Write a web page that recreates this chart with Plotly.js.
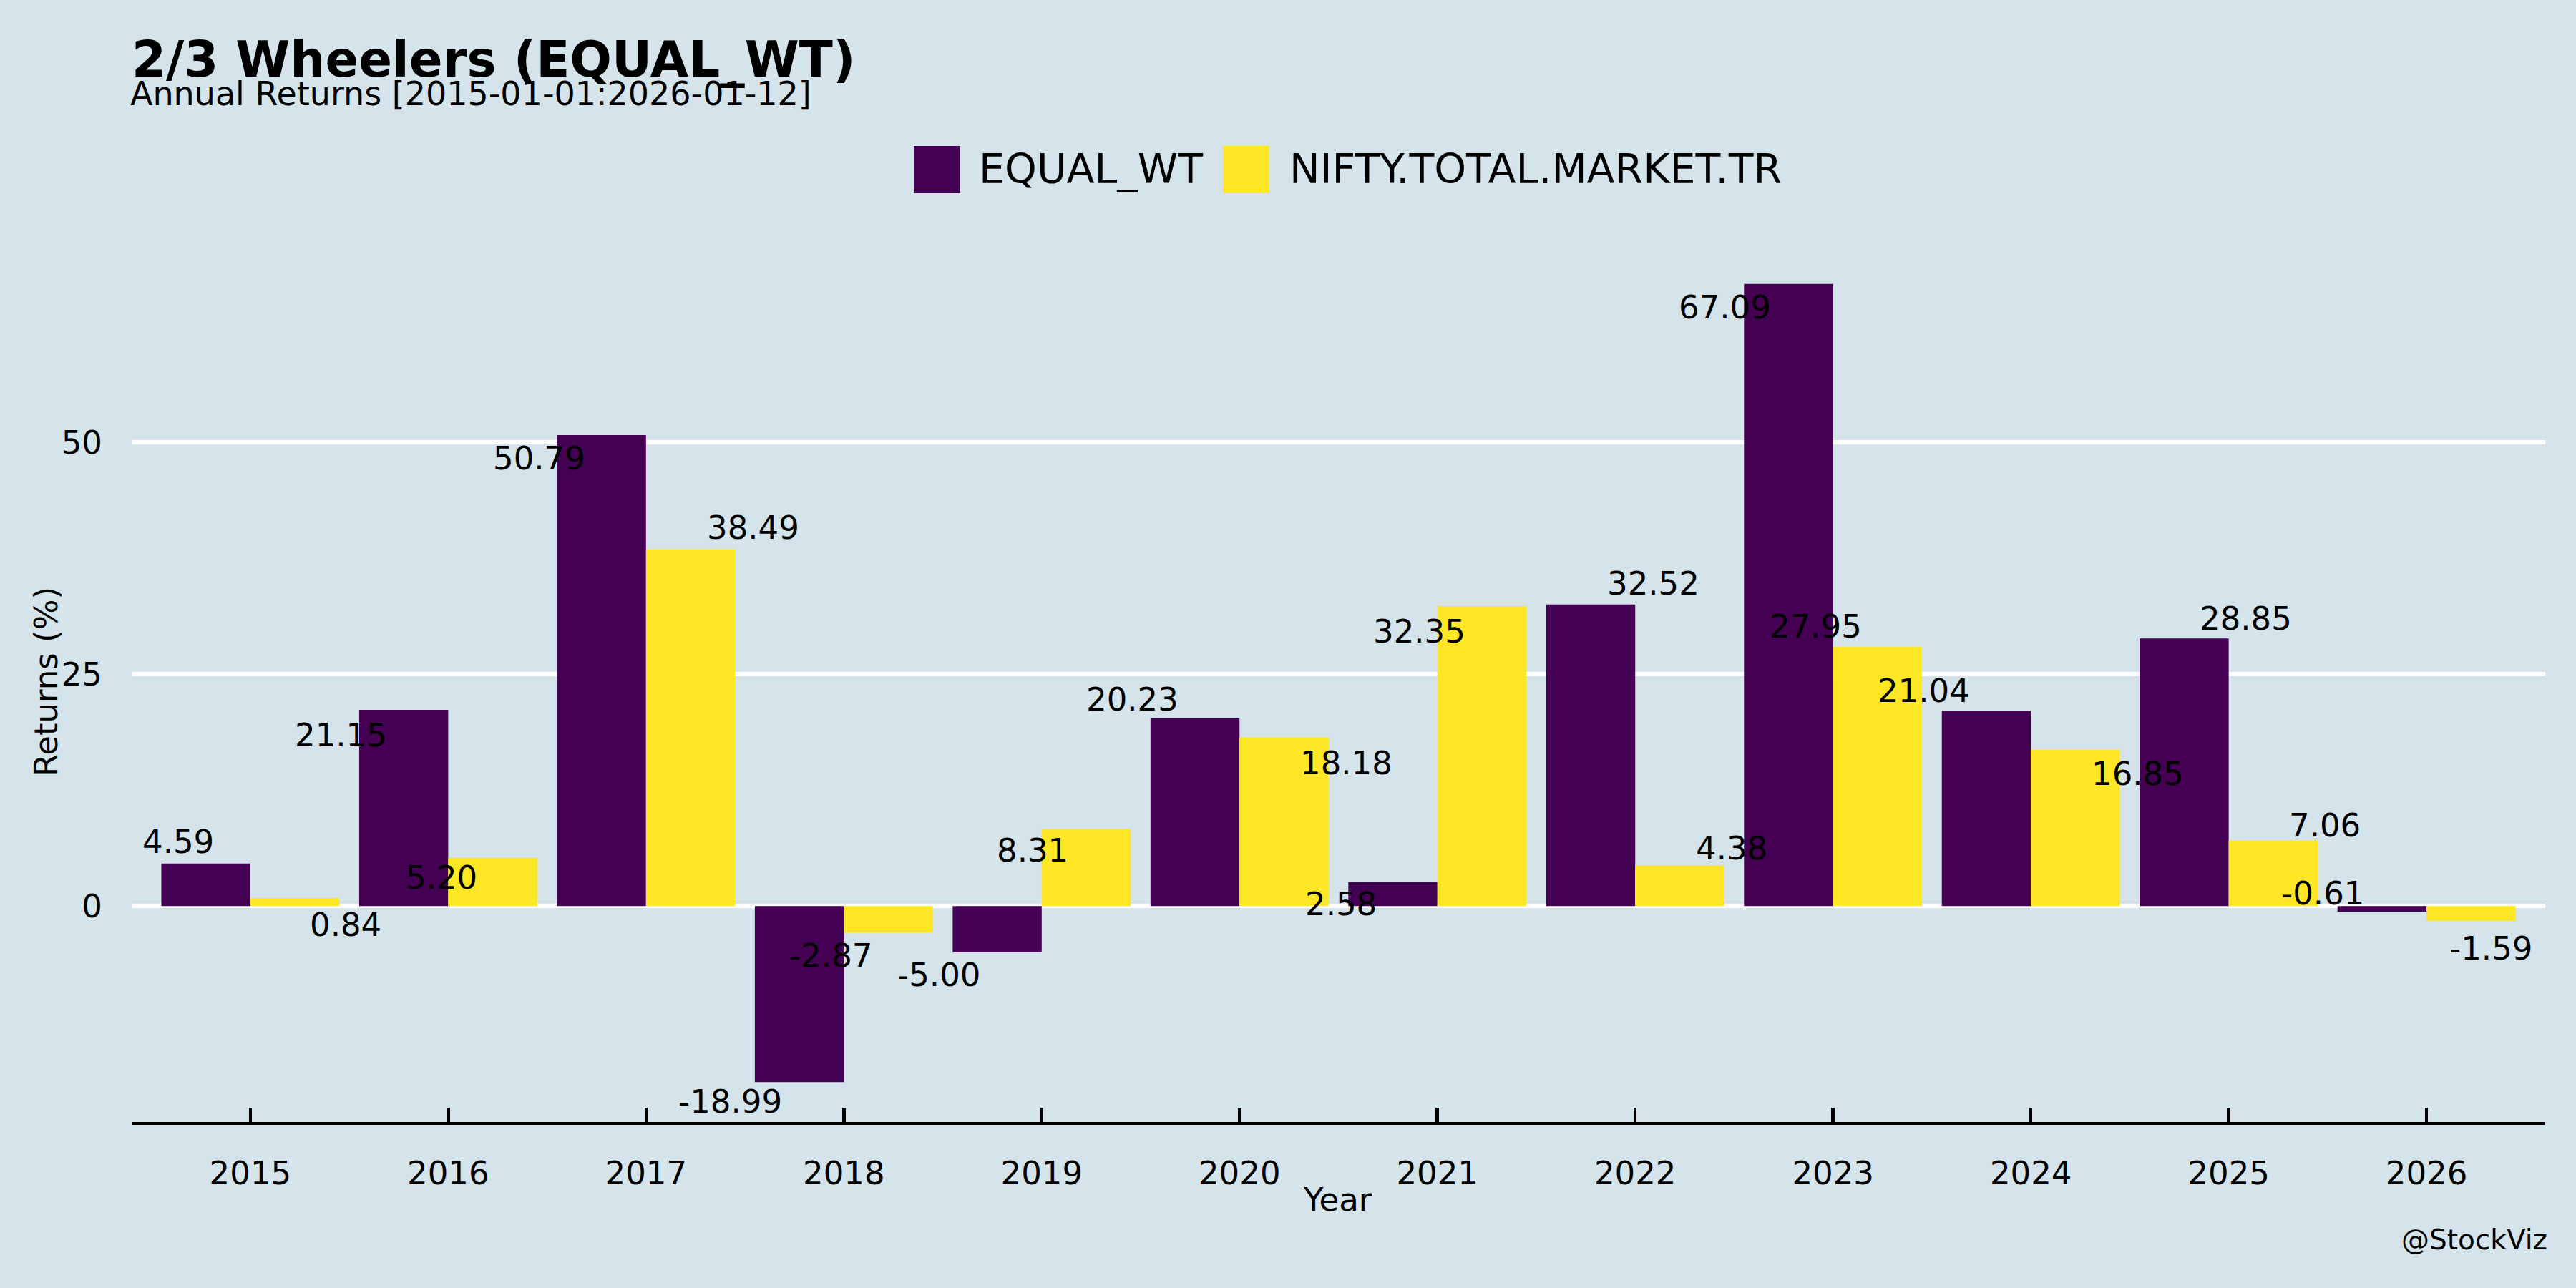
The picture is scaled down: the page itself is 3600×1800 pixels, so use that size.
<!DOCTYPE html>
<html><head><meta charset="utf-8">
<script src="https://cdn.plot.ly/plotly-3.0.1.min.js"></script>
<style>html,body{margin:0;padding:0;background:#d5e4eb;} #chart{width:3600px;height:1800px;}</style>
</head><body><div id="chart"></div>
<script>
// ---- data ----
const years = ['2015','2016','2017','2018','2019','2020','2021','2022','2023','2024','2025','2026'];
const equalWt = [4.59, 21.15, 50.79, -18.99, -5.00, 20.23, 2.58, 32.52, 67.09, 21.04, 28.85, -0.61];
const niftyTotalMarketTr = [0.84, 5.20, 38.49, -2.87, 8.31, 18.18, 32.35, 4.38, 27.95, 16.85, 7.06, -1.59];
const seriesNames = ['EQUAL_WT', 'NIFTY.TOTAL.MARKET.TR'];
const yTicks = [0, 25, 50];

// ---- styles / label placement (pixel nudges, not data) ----
const seriesColors = ['#440154', '#fde725'];
const labelShiftEq = [[-39,30],[-88,-35],[-87,-33],[-97,-27],[-82,-32],[-88,27],[-73,-31],[87,29],[-89,-33],[-87,28],[86,28],[-83,26]];
const labelShiftNf = [[71,-37],[-72,-28],[87,30],[-81,-32],[-75,-30],[87,-36],[-87,-36],[73,24],[-86,28],[87,-34],[72,21],[28,-39]];

const W = 3600, H = 1800, L = 184, R = 43, T = 341, B = 232;
const pw = W - L - R, ph = H - T - B;
const px2x = X => (X - L) / pw;
const px2y = Y => (H - B - Y) / ph;
const FONT = 'DejaVu Sans';
const BG = '#d5e4eb';
const bargap = 0.1, dodge = (1 - bargap) / 4;

const allVals = equalWt.concat(niftyTotalMarketTr, [0]);
const vmin = Math.min(...allVals), vmax = Math.max(...allVals);
const pad = (vmax - vmin) * 0.05;

const series = [equalWt, niftyTotalMarketTr];
const traces = series.map((vals, k) => ({
  type: 'bar', x: years, y: vals, name: seriesNames[k],
  marker: {color: seriesColors[k], line: {width: 0}},
  showlegend: false, hoverinfo: 'x+y'
}));

const annotations = [];
[[equalWt, labelShiftEq, -dodge], [niftyTotalMarketTr, labelShiftNf, dodge]].forEach(([vals, shifts, off]) => {
  vals.forEach((v, i) => {
    annotations.push({
      x: i + off, y: v, xref: 'x', yref: 'y', text: v.toFixed(2), showarrow: false,
      xanchor: 'center', yanchor: 'middle', xshift: shifts[i][0], yshift: shifts[i][1],
      font: {family: FONT, size: 45, color: '#000'}
    });
  });
});
// subtitle
annotations.push({xref: 'paper', yref: 'paper', x: px2x(180), y: px2y(131), xanchor: 'left', yanchor: 'middle',
  text: 'Annual Returns [2015-01-01:2026-01-12]', showarrow: false, font: {family: FONT, size: 46, color: '#000'}});
// watermark
annotations.push({xref: 'paper', yref: 'paper', x: px2x(3562), y: px2y(1732), xanchor: 'right', yanchor: 'middle',
  text: '@StockViz', showarrow: false, font: {family: FONT, size: 39, color: '#000'}});
// axis titles
annotations.push({xref: 'paper', yref: 'paper', x: px2x(1869), y: px2y(1676), xanchor: 'center', yanchor: 'middle',
  text: 'Year', showarrow: false, font: {family: FONT, size: 45, color: '#000'}});
annotations.push({xref: 'paper', yref: 'paper', x: px2x(64), y: px2y(953), xanchor: 'center', yanchor: 'middle',
  text: 'Returns (%)', textangle: -90, showarrow: false, font: {family: FONT, size: 45, color: '#000'}});

// manual legend (large swatches)
const legendItems = [{sx: 1277, tx: 1366}, {sx: 1709, tx: 1800}];
const shapes = [];
legendItems.forEach((it, k) => {
  shapes.push({type: 'rect', xref: 'paper', yref: 'paper', x0: px2x(it.sx), x1: px2x(it.sx + 65),
    y0: px2y(270), y1: px2y(204), fillcolor: seriesColors[k], line: {width: 0}});
  annotations.push({xref: 'paper', yref: 'paper', x: px2x(it.tx), y: px2y(236), xanchor: 'left', yanchor: 'middle',
    text: seriesNames[k], showarrow: false, font: {family: FONT, size: 57, color: '#000'}});
});

const layout = {
  width: W, height: H,
  paper_bgcolor: BG, plot_bgcolor: BG,
  margin: {l: L, r: R, t: T, b: B, pad: 0},
  font: {family: FONT, color: '#000'},
  title: {text: '<b>2/3 Wheelers (EQUAL_WT)</b>', xref: 'container', yref: 'container',
    x: L / W, xanchor: 'left', y: 1 - 83 / H, yanchor: 'middle',
    font: {family: FONT, size: 69, color: '#000'}},
  barmode: 'group', bargap: bargap, bargroupgap: 0,
  xaxis: {type: 'category', range: [-0.6, years.length - 0.4], showgrid: false, zeroline: false,
    showline: true, linecolor: '#000', linewidth: 4,
    ticks: 'inside', ticklen: 20, tickwidth: 4.5, tickcolor: '#000',
    tickfont: {family: FONT, size: 45, color: '#000'}, ticklabelstandoff: 29},
  yaxis: {range: [vmin - pad, vmax + pad], tickvals: yTicks, ticktext: yTicks.map(String),
    showgrid: true, gridcolor: '#ffffff', gridwidth: 6, zeroline: false, showline: false, ticks: '',
    tickfont: {family: FONT, size: 45, color: '#000'}, ticklabelstandoff: 40},
  annotations: annotations, shapes: shapes, showlegend: false
};

Plotly.newPlot('chart', traces, layout, {staticPlot: true, displayModeBar: false});
</script></body></html>
